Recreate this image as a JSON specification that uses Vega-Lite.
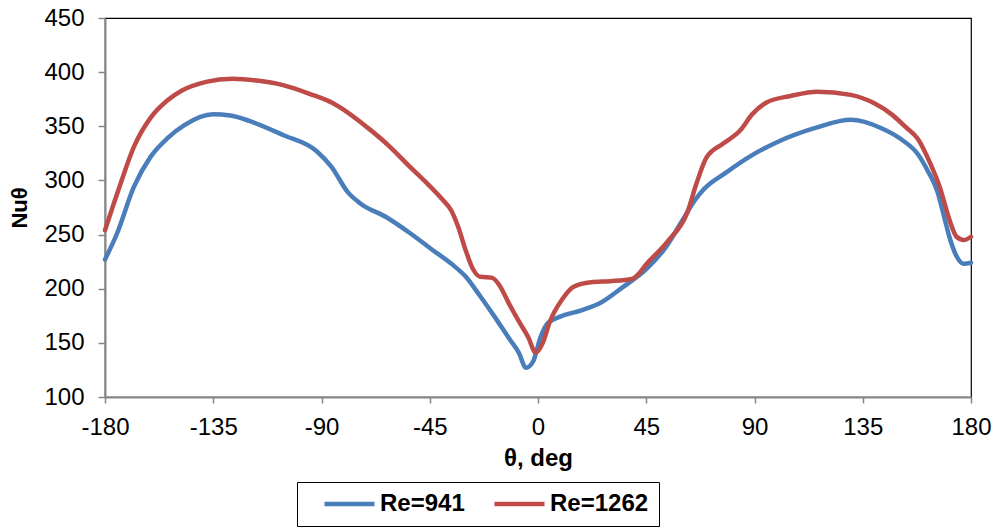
{
  "$schema": "https://vega.github.io/schema/vega-lite/v6.json",
  "width": 866,
  "height": 379,
  "autosize": {"type": "none"},
  "padding": {"left": 105, "top": 18, "right": 26, "bottom": 132},
  "config": {
    "view": {"stroke": "#000000", "strokeWidth": 1.2},
    "font": "Liberation Sans"
  },
  "data": {
    "values": [
      {"theta": -180, "nu": 227, "series": "Re=941"},
      {"theta": -175, "nu": 251, "series": "Re=941"},
      {"theta": -168, "nu": 294, "series": "Re=941"},
      {"theta": -161, "nu": 322, "series": "Re=941"},
      {"theta": -154, "nu": 339, "series": "Re=941"},
      {"theta": -147, "nu": 351, "series": "Re=941"},
      {"theta": -135, "nu": 361, "series": "Re=941"},
      {"theta": -128, "nu": 360, "series": "Re=941"},
      {"theta": -120, "nu": 355, "series": "Re=941"},
      {"theta": -106, "nu": 342, "series": "Re=941"},
      {"theta": -92, "nu": 327, "series": "Re=941"},
      {"theta": -86, "nu": 313, "series": "Re=941"},
      {"theta": -79, "nu": 289, "series": "Re=941"},
      {"theta": -74, "nu": 279, "series": "Re=941"},
      {"theta": -63, "nu": 266, "series": "Re=941"},
      {"theta": -53, "nu": 251, "series": "Re=941"},
      {"theta": -44, "nu": 236, "series": "Re=941"},
      {"theta": -36, "nu": 223, "series": "Re=941"},
      {"theta": -30, "nu": 211, "series": "Re=941"},
      {"theta": -24, "nu": 193, "series": "Re=941"},
      {"theta": -18, "nu": 174, "series": "Re=941"},
      {"theta": -12, "nu": 154, "series": "Re=941"},
      {"theta": -8, "nu": 141, "series": "Re=941"},
      {"theta": -5, "nu": 127, "series": "Re=941"},
      {"theta": -2, "nu": 133, "series": "Re=941"},
      {"theta": 1, "nu": 155, "series": "Re=941"},
      {"theta": 4, "nu": 168, "series": "Re=941"},
      {"theta": 9, "nu": 174, "series": "Re=941"},
      {"theta": 18, "nu": 180, "series": "Re=941"},
      {"theta": 26, "nu": 187, "series": "Re=941"},
      {"theta": 35, "nu": 201, "series": "Re=941"},
      {"theta": 45, "nu": 218, "series": "Re=941"},
      {"theta": 53, "nu": 238, "series": "Re=941"},
      {"theta": 60, "nu": 263, "series": "Re=941"},
      {"theta": 65, "nu": 281, "series": "Re=941"},
      {"theta": 69, "nu": 292, "series": "Re=941"},
      {"theta": 78, "nu": 307, "series": "Re=941"},
      {"theta": 88, "nu": 322, "series": "Re=941"},
      {"theta": 100, "nu": 336, "series": "Re=941"},
      {"theta": 116, "nu": 349, "series": "Re=941"},
      {"theta": 130, "nu": 356, "series": "Re=941"},
      {"theta": 143, "nu": 348, "series": "Re=941"},
      {"theta": 151, "nu": 338, "series": "Re=941"},
      {"theta": 158, "nu": 324, "series": "Re=941"},
      {"theta": 162, "nu": 309, "series": "Re=941"},
      {"theta": 166, "nu": 290, "series": "Re=941"},
      {"theta": 169, "nu": 265, "series": "Re=941"},
      {"theta": 171, "nu": 248, "series": "Re=941"},
      {"theta": 174, "nu": 230, "series": "Re=941"},
      {"theta": 177, "nu": 223, "series": "Re=941"},
      {"theta": 180, "nu": 224, "series": "Re=941"},
      {"theta": -180, "nu": 254, "series": "Re=1262"},
      {"theta": -174, "nu": 294, "series": "Re=1262"},
      {"theta": -168, "nu": 331, "series": "Re=1262"},
      {"theta": -161, "nu": 358, "series": "Re=1262"},
      {"theta": -154, "nu": 374, "series": "Re=1262"},
      {"theta": -148, "nu": 383, "series": "Re=1262"},
      {"theta": -138, "nu": 391, "series": "Re=1262"},
      {"theta": -127, "nu": 394, "series": "Re=1262"},
      {"theta": -116, "nu": 392, "series": "Re=1262"},
      {"theta": -106, "nu": 388, "series": "Re=1262"},
      {"theta": -95, "nu": 380, "series": "Re=1262"},
      {"theta": -85, "nu": 371, "series": "Re=1262"},
      {"theta": -71, "nu": 349, "series": "Re=1262"},
      {"theta": -62, "nu": 332, "series": "Re=1262"},
      {"theta": -53, "nu": 312, "series": "Re=1262"},
      {"theta": -46, "nu": 297, "series": "Re=1262"},
      {"theta": -40, "nu": 283, "series": "Re=1262"},
      {"theta": -36, "nu": 272, "series": "Re=1262"},
      {"theta": -33, "nu": 256, "series": "Re=1262"},
      {"theta": -30, "nu": 235, "series": "Re=1262"},
      {"theta": -27, "nu": 218, "series": "Re=1262"},
      {"theta": -24, "nu": 211, "series": "Re=1262"},
      {"theta": -19, "nu": 210, "series": "Re=1262"},
      {"theta": -16, "nu": 203, "series": "Re=1262"},
      {"theta": -12, "nu": 186, "series": "Re=1262"},
      {"theta": -8, "nu": 170, "series": "Re=1262"},
      {"theta": -4, "nu": 155, "series": "Re=1262"},
      {"theta": -1, "nu": 141, "series": "Re=1262"},
      {"theta": 2, "nu": 150, "series": "Re=1262"},
      {"theta": 5, "nu": 170, "series": "Re=1262"},
      {"theta": 10, "nu": 190, "series": "Re=1262"},
      {"theta": 15, "nu": 202, "series": "Re=1262"},
      {"theta": 22, "nu": 206, "series": "Re=1262"},
      {"theta": 30, "nu": 207, "series": "Re=1262"},
      {"theta": 39, "nu": 209, "series": "Re=1262"},
      {"theta": 46, "nu": 225, "series": "Re=1262"},
      {"theta": 54, "nu": 244, "series": "Re=1262"},
      {"theta": 62, "nu": 270, "series": "Re=1262"},
      {"theta": 66, "nu": 298, "series": "Re=1262"},
      {"theta": 70, "nu": 321, "series": "Re=1262"},
      {"theta": 77, "nu": 334, "series": "Re=1262"},
      {"theta": 84, "nu": 346, "series": "Re=1262"},
      {"theta": 89, "nu": 361, "series": "Re=1262"},
      {"theta": 95, "nu": 372, "series": "Re=1262"},
      {"theta": 105, "nu": 378, "series": "Re=1262"},
      {"theta": 116, "nu": 382, "series": "Re=1262"},
      {"theta": 130, "nu": 379, "series": "Re=1262"},
      {"theta": 140, "nu": 371, "series": "Re=1262"},
      {"theta": 147, "nu": 361, "series": "Re=1262"},
      {"theta": 153, "nu": 349, "series": "Re=1262"},
      {"theta": 158, "nu": 338, "series": "Re=1262"},
      {"theta": 163, "nu": 316, "series": "Re=1262"},
      {"theta": 167, "nu": 294, "series": "Re=1262"},
      {"theta": 171, "nu": 264, "series": "Re=1262"},
      {"theta": 174, "nu": 248, "series": "Re=1262"},
      {"theta": 177, "nu": 245, "series": "Re=1262"},
      {"theta": 180, "nu": 248, "series": "Re=1262"}
    ]
  },
  "mark": {"type": "line", "strokeWidth": 4.5, "interpolate": "monotone", "strokeCap": "round", "strokeJoin": "round"},
  "encoding": {
    "x": {
      "field": "theta",
      "type": "quantitative",
      "scale": {"domain": [-180, 180], "nice": false, "zero": false},
      "axis": {
        "values": [-180, -135, -90, -45, 0, 45, 90, 135, 180],
        "labelExpr": "datum.value + ''",
        "labelFlush": false,
        "labelOverlap": false,
        "title": "θ, deg",
        "titleFont": "Liberation Sans",
        "titleFontSize": 24,
        "titleFontWeight": "bold",
        "titleColor": "#000000",
        "titlePadding": 7,
        "labelFont": "Liberation Sans",
        "labelFontSize": 24,
        "labelColor": "#000000",
        "labelPadding": 12,
        "domainColor": "#868686",
        "domainWidth": 2,
        "tickColor": "#868686",
        "tickWidth": 1.5,
        "tickSize": 6,
        "grid": false
      }
    },
    "y": {
      "field": "nu",
      "type": "quantitative",
      "scale": {"domain": [100, 450], "nice": false, "zero": false},
      "axis": {
        "values": [100, 150, 200, 250, 300, 350, 400, 450],
        "labelFlush": false,
        "labelOverlap": false,
        "title": "Nuθ",
        "titleFont": "Liberation Sans",
        "titleFontSize": 22,
        "titleFontWeight": "bold",
        "titleColor": "#000000",
        "titlePadding": 12,
        "labelFont": "Liberation Sans",
        "labelFontSize": 24,
        "labelColor": "#000000",
        "labelPadding": 14,
        "domainColor": "#868686",
        "domainWidth": 2,
        "tickColor": "#868686",
        "tickWidth": 1.5,
        "tickSize": 7,
        "grid": false
      }
    },
    "color": {
      "field": "series",
      "type": "nominal",
      "sort": ["Re=941", "Re=1262"],
      "scale": {"domain": ["Re=941", "Re=1262"], "range": ["#4a7ebb", "#be4b48"]},
      "legend": {
        "title": null,
        "orient": "none",
        "direction": "horizontal",
        "legendX": 192,
        "legendY": 464,
        "symbolType": "stroke",
        "symbolSize": 2500,
        "symbolStrokeWidth": 4.5,
        "symbolOffset": 15,
        "clipHeight": 24,
        "labelFont": "Liberation Sans",
        "labelFontSize": 24,
        "labelFontWeight": "bold",
        "labelColor": "#000000",
        "labelOffset": 3,
        "columnPadding": 12,
        "padding": 10,
        "strokeColor": "#000000",
        "fillColor": "#ffffff"
      }
    }
  }
}
